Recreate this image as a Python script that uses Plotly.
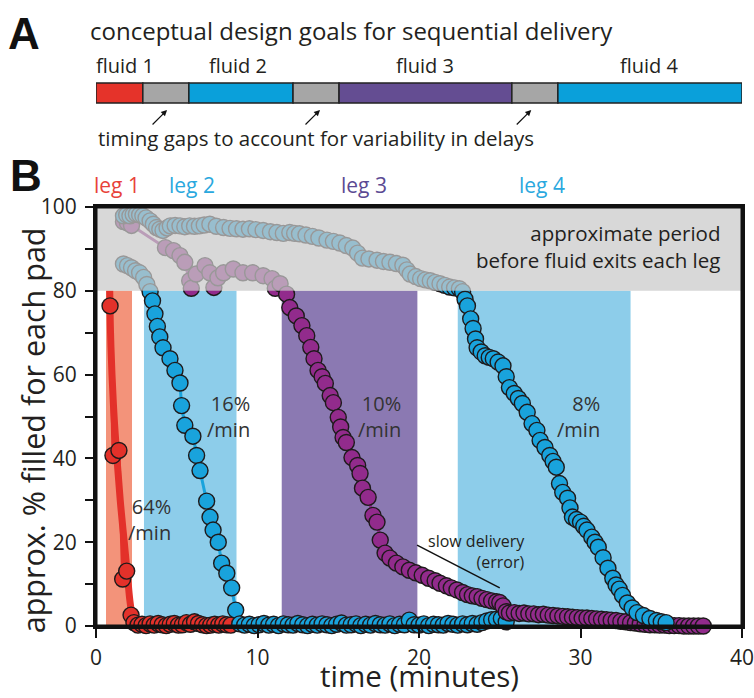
import plotly.graph_objects as go

# ---------------- data ----------------
# Panel A: conceptual schedule (minutes on the same time axis)
segment_bounds = [0, 2.9, 5.75, 12.2, 15.05, 25.75, 28.6, 40]
segment_kinds = ["fluid 1", "gap", "fluid 2", "gap", "fluid 3", "gap", "fluid 4"]
fluid_labels = ["fluid 1", "fluid 2", "fluid 3", "fluid 4"]

# Panel B: shaded windows for each leg (minutes)
leg_names = ["leg 1", "leg 2", "leg 3", "leg 4"]
leg_start = [0.62, 2.97, 11.5, 22.4]
leg_end = [2.23, 8.7, 19.9, 33.1]
leg_rates = ["64%", "16%", "10%", "8%"]

# leg 1 (red)
leg1_x = [0.87, 1.05, 1.42, 1.65, 1.9, 2.17,
          2.35, 2.6, 2.85, 3.1, 3.35, 3.6, 3.85, 4.1, 4.35, 4.6, 4.85, 5.1, 5.35,
          5.6, 5.85, 6.1, 6.35, 6.6, 6.85, 7.1, 7.35, 7.6, 7.85, 8.1, 8.35]
leg1_y = [76.4, 40.7, 41.9, 11.2, 13.1, 2.6,
          0.8, 0.2, 0.4, 0.1, 0.5, 0.2, 0.6, 0.3, 0.1, 0.4, 0.6, 0.2, 0.3,
          0.8, 0.4, 1.0, 0.6, 0.3, 0.1, 0.2, 0.4, 0.2, 0.5, 0.3, 0.2]
leg1_fit_x = [0.85, 0.9, 0.99, 1.12, 1.3, 1.5, 1.75, 1.95, 2.1, 2.25, 2.45, 2.7]
leg1_fit_y = [80, 70, 60, 50, 40, 30, 20, 12, 6, 2.5, 0.8, 0.3]

# leg 2 (blue)
leg2_x = [1.7, 1.95, 2.2, 2.45, 2.7, 2.95, 3.15, 3.35, 3.5, 3.65, 3.8, 3.95,
          4.15, 4.58, 4.89, 5.2, 5.3, 5.5, 6.0, 6.23, 6.44, 6.85, 7.06, 7.25,
          7.57, 7.78, 8.1, 8.4, 8.65,
          8.9, 9.2, 9.5, 9.8, 10.1, 10.4, 10.7, 11.0, 11.3, 11.6, 11.9, 12.2,
          12.5, 12.8, 13.1, 13.4, 13.7, 14.0, 14.3, 14.6, 14.9, 15.2, 15.5, 15.8,
          16.1, 16.4, 16.7, 17.0, 17.3, 17.6, 17.9, 18.2, 18.5, 18.8, 19.1, 19.4,
          19.7, 20.0, 20.3, 20.6, 20.9, 21.2, 21.5, 21.8, 22.1, 22.4, 22.7, 23.0,
          23.3, 23.6, 23.9, 24.2, 24.5, 24.8, 25.1, 25.4]
leg2_y = [86.4, 86.0, 85.5, 84.8, 84.3, 83.2, 81.5, 79.8, 77.6, 74.5, 71.5, 69.0,
          66.4, 63.8, 61.0, 58.0, 52.6, 47.9, 45.3, 40.7, 37.1, 29.8, 26.0, 22.9,
          20.0, 15.0, 12.6, 9.1, 3.8,
          0.5, 0.2, 0.4, 0.1, 0.3, 0.6, 0.2, 0.4, 0.1, 0.5, 0.3, 0.2,
          0.6, 0.3, 0.1, 0.4, 0.2, 0.5, 0.3, 0.1, 0.4, 0.7, 0.2, 0.3,
          0.5, 0.1, 0.4, 0.2, 0.6, 0.3, 0.2, 0.5, 0.1, 0.4, 0.3, 1.4,
          0.3, 0.2, 0.5, 0.1, 0.4, 0.3, 0.2, 0.6, 0.4, 0.2, 0.5, 0.3,
          0.6, 0.4, 0.8, 1.2, 1.5, 1.6, 1.8, 1.0]

# leg 3 (purple)
leg3_x = [1.7, 1.95, 2.2, 4.3, 4.8, 5.2, 5.5, 5.8, 5.9, 6.2, 6.75, 7.05, 7.3,
          7.55, 7.9, 8.5, 9.1, 9.7, 10.35, 10.9, 11.1, 11.4, 11.8,
          12.0, 12.4, 12.75, 13.05, 13.3, 13.5, 13.75, 14.0, 14.2, 14.5, 14.7,
          15.0, 15.15, 15.3, 15.5, 15.85, 16.2, 16.35, 16.5, 16.85, 17.15, 17.4,
          17.6, 17.9, 18.2, 18.6, 19.0, 19.4, 19.8, 20.2, 20.6, 21.0, 21.3, 21.7,
          22.0, 22.35, 22.7, 23.0, 23.3, 23.6, 23.9, 24.2, 24.5, 24.8, 25.0, 25.2,
          25.4, 25.6, 25.9, 26.2, 26.5, 26.8, 27.1, 27.4, 27.7, 28.0, 28.3, 28.6,
          28.9, 29.2, 29.5, 29.8, 30.1, 30.4, 30.7, 31.0, 31.3, 31.6, 31.9, 32.2,
          32.5, 32.8, 33.1, 33.4, 33.7, 34.0, 34.3, 34.6, 34.9, 35.2, 35.5, 35.8,
          36.1, 36.4, 36.7, 37.0, 37.3, 37.6]
leg3_y = [96.5, 96.2, 95.6, 90.3, 89.6, 88.4, 86.8, 82.4, 80.6, 84.0, 86.0, 84.3, 80.8,
          83.1, 84.3, 85.2, 84.3, 84.3, 83.6, 82.9, 80.6, 81.7, 79.2,
          76.0, 74.0, 71.7, 69.3, 66.5, 63.8, 61.0, 59.5, 57.9, 55.0, 53.3,
          49.8, 47.5, 45.0, 43.8, 40.2, 38.3, 36.4, 32.9, 30.7, 26.4, 24.8,
          20.5, 17.4, 16.2, 15.0, 14.1, 13.3, 12.7, 12.1, 11.4, 10.8, 10.2, 9.6,
          9.1, 8.6, 8.0, 7.5, 7.2, 7.0, 6.6, 6.3, 6.0, 5.8, 5.6, 4.8,
          3.4, 3.1, 3.2, 3.0, 3.1, 2.9, 2.9, 2.7, 2.8, 2.6, 2.5, 2.4,
          2.3, 2.2, 2.1, 2.0, 1.9, 1.9, 1.8, 1.7, 1.6, 1.5, 1.4, 1.3,
          1.1, 1.0, 0.8, 0.7, 0.5, 0.4, 0.3, 0.3, 0.2, 0.2, 0.1, 0.1,
          0.1, 0.0, 0.0, 0.0, 0.0, 0.0]

# leg 4 (blue)
leg4_x = [1.7, 1.9, 2.1, 2.3, 2.5, 2.7, 2.9, 3.1, 3.35, 3.55, 3.75, 3.95, 4.15,
          4.4, 4.6, 4.9, 5.2, 5.5, 5.8, 6.1, 6.4, 6.7, 7.05, 7.45, 7.9, 8.3, 8.7,
          9.1, 9.5, 9.9, 10.35, 10.8, 11.2, 11.6, 12.0, 12.3, 12.6, 13.0, 13.4,
          13.8, 14.3, 14.7, 15.1, 15.5, 15.9, 16.2, 16.5, 16.9, 17.4, 17.8, 18.2,
          18.6, 19.0, 19.25, 19.45, 19.8, 20.1, 20.4, 20.7, 21.0, 21.3, 21.6, 21.9,
          22.2, 22.5, 22.7, 22.85, 23.0, 23.2, 23.35, 23.5, 23.6, 23.85, 24.1,
          24.35, 24.6, 24.9, 25.2, 25.4, 25.6, 25.9, 26.15, 26.4, 26.7, 27.0, 27.3,
          27.5, 27.8, 28.1, 28.3, 28.5, 28.7, 28.9, 29.2, 29.35, 29.5, 29.75, 30.0,
          30.2, 30.4, 30.7, 30.9, 31.1, 31.4, 31.7, 32.0, 32.2, 32.4, 32.6, 32.9,
          33.2, 33.5, 33.9, 34.3, 34.7, 35.0, 35.3]
leg4_y = [97.9, 98.1, 97.9, 98.2, 98.3, 98.1, 97.9, 97.4, 96.7, 95.9, 95.1, 94.7, 94.4,
          95.0, 95.5, 95.6, 95.5, 95.3, 95.5, 95.4, 95.5, 95.7, 95.9, 95.4, 95.1, 94.9, 94.8,
          94.7, 94.8, 94.6, 94.4, 94.1, 93.9, 93.7, 93.9, 93.7, 93.6, 93.3, 93.0,
          92.6, 92.1, 91.8, 91.4, 90.8, 90.2, 89.0, 87.8, 87.6, 87.3, 87.0, 86.8,
          86.5, 86.1, 85.0, 84.0, 83.4, 82.9, 82.6, 82.4, 82.0, 81.7, 81.3, 80.9,
          80.7, 80.5, 79.8, 78.0, 76.4, 73.3, 71.0, 68.5, 66.4, 65.4, 64.5,
          64.1, 63.8, 63.0, 62.1, 59.5, 56.9, 55.5, 54.3, 53.1, 51.0, 48.3, 46.7,
          44.3, 42.6, 40.7, 39.3, 37.9, 34.0, 31.9, 30.5, 28.2, 26.0, 25.4, 24.8,
          23.8, 22.9, 21.2, 20.0, 18.8, 16.3, 13.8, 11.4, 9.8, 8.8, 7.3, 5.5,
          4.3, 3.2, 2.5, 1.8, 1.3, 1.0, 0.8]

# ---------------- styles ----------------
FONT = "Open Sans, Noto Sans, DejaVu Sans, sans-serif"
TXT = "#231f20"
RED = "#e3312a"
BLUE = "#19a3dc"
PURPLE = "#922b8c"
seg_colors = {"fluid 1": "#e5332a", "fluid 2": "#0aa0da", "fluid 3": "#644d92",
              "fluid 4": "#0aa0da", "gap": "#a6a6a6"}
band_colors = ["#f3937a", "#8dcdea", "#8b79b2", "#8dcdea"]
label_colors = ["#e8423a", "#2aa8de", "#5b4a93", "#2aa8de"]
OUTLINE = dict(color="#1e1a1b", width=1.4)
MS = 16

fig = go.Figure()

# fitted line for leg 1
fig.add_trace(go.Scatter(x=leg1_fit_x, y=leg1_fit_y, mode="lines",
                         line=dict(color=RED, width=7, shape="spline"),
                         hoverinfo="skip", cliponaxis=False))
for xs, ys, col in [(leg1_x, leg1_y, RED), (leg2_x, leg2_y, BLUE),
                    (leg3_x, leg3_y, PURPLE), (leg4_x, leg4_y, BLUE)]:
    fig.add_trace(go.Scatter(x=xs, y=ys, mode="lines+markers",
                             line=dict(color=col, width=3),
                             marker=dict(size=MS, color=col, line=OUTLINE),
                             cliponaxis=False))

shapes = []
# leg windows (below traces)
for s, e, c in zip(leg_start, leg_end, band_colors):
    shapes.append(dict(type="rect", xref="x", yref="y", x0=s, x1=e, y0=0, y1=80,
                       fillcolor=c, line=dict(width=0), layer="below"))
# gray "before fluid exits" period (above traces, translucent)
shapes.append(dict(type="rect", xref="x", yref="y", x0=0, x1=40, y0=80, y1=100,
                   fillcolor="#c9c9c9", opacity=0.72, line=dict(width=0), layer="above"))
# frame on top
shapes.append(dict(type="rect", xref="x", yref="y", x0=0, x1=40, y0=0, y1=100,
                   fillcolor="rgba(0,0,0,0)", line=dict(color="#111", width=3), layer="above"))
# slow delivery pointer line
shapes.append(dict(type="line", xref="x", yref="y", x0=19.88, y0=19.3, x1=25.0, y1=9.1,
                   line=dict(color="#111", width=1.5), layer="above"))

# Panel A bar
A_Y0, A_Y1 = 1.248, 1.296
for i, kind in enumerate(segment_kinds):
    shapes.append(dict(type="rect", xref="x", yref="paper",
                       x0=segment_bounds[i], x1=segment_bounds[i + 1], y0=A_Y0, y1=A_Y1,
                       fillcolor=seg_colors[kind], line=dict(color="#222", width=1.5),
                       layer="above"))

annotations = []
def ann(text, x, y, size, color=TXT, xref="x", yref="paper", xanchor="center",
        yanchor="middle", align="center", family=FONT, **kw):
    annotations.append(dict(text=text, x=x, y=y, xref=xref, yref=yref, xanchor=xanchor,
                            yanchor=yanchor, align=align, showarrow=False,
                            font=dict(family=family, size=size, color=color), **kw))

BOLD = "Liberation Sans Narrow, Arial Narrow, Liberation Sans, Arial, sans-serif"
ann("<b>A</b>", -0.111, 1.413, 44, color="#111", xref="paper", family=BOLD)
ann("<b>B</b>", -0.108, 1.074, 44, color="#111", xref="paper", family=BOLD)
ann("conceptual design goals for sequential delivery", -0.012, 1.422, 24,
    xref="paper", xanchor="left")
fluid_label_x = [1.8, 8.8, 20.4, 34.3]
for lab, x in zip(fluid_labels, fluid_label_x):
    ann(lab, x, 1.337, 20)
ann("timing gaps to account for variability in delays", 0.0, 1.165, 20.5,
    xref="paper", xanchor="left")
for hx in [4.4, 13.87, 26.95]:
    annotations.append(dict(text="", x=hx, y=1.2315, xref="x", yref="paper",
                            showarrow=True, ax=-16, ay=16, arrowhead=2, arrowsize=1.0,
                            arrowwidth=1.2, arrowcolor="#111"))

leg_label_x = [1.3, 5.95, 16.6, 27.6]
for name, x, c in zip(leg_names, leg_label_x, label_colors):
    ann(name, x, 1.0525, 21, color=c)

ann("approximate period<br>before fluid exits each leg", 38.76, 90.6, 20.5,
    yref="y", xanchor="right", align="right")

rate_pos = [(4.77, 25.5), (9.66, 50.1), (19.0, 50.1), (31.33, 50.1)]
for r, (x, y) in zip(leg_rates, rate_pos):
    ann(r + "<br>/min", x, y, 20, color="#333", yref="y", xanchor="right", align="right")

ann("slow delivery<br>(error)", 26.7, 17.9, 16, yref="y", xanchor="right", align="right")

ann("approx. % filled for each pad", -0.097, 0.468, 30.5, xref="paper", textangle=-90)
ann("time (minutes)", 0.5, -0.1718, 29.5, xref="paper", yanchor="bottom")

fig.update_layout(
    width=754, height=698,
    margin=dict(l=96, r=12, t=207, b=72, autoexpand=False),
    paper_bgcolor="white", plot_bgcolor="white",
    showlegend=False,
    shapes=shapes, annotations=annotations,
    font=dict(family=FONT, color=TXT),
)
fig.update_xaxes(range=[0, 40], showgrid=False, zeroline=False, automargin=False,
                 showline=True, linecolor="#111", linewidth=3, mirror=True,
                 ticks="outside", ticklen=9, tickwidth=2, tickcolor="#111",
                 tickvals=[0, 10, 20, 30, 40], ticklabelstandoff=2,
                 ticklabeloverflow="allow",
                 tickfont=dict(size=21, color=TXT, family=FONT))
fig.update_yaxes(range=[0, 100], showgrid=False, zeroline=False, automargin=False,
                 showline=True, linecolor="#111", linewidth=3, mirror=True,
                 ticks="outside", ticklen=8, tickwidth=2, tickcolor="#111",
                 tickvals=[0, 10, 20, 30, 40, 50, 60, 70, 80, 90, 100],
                 ticktext=["0", "", "20", "", "40", "", "60", "", "80", "", "100"],
                 ticklabelstandoff=4, ticklabeloverflow="allow",
                 tickfont=dict(size=21, color=TXT, family=FONT))

fig.write_html("out.html", config={"displayModeBar": False},
               post_script="document.body.style.margin='0px';"
                           "document.body.style.overflow='hidden';")
